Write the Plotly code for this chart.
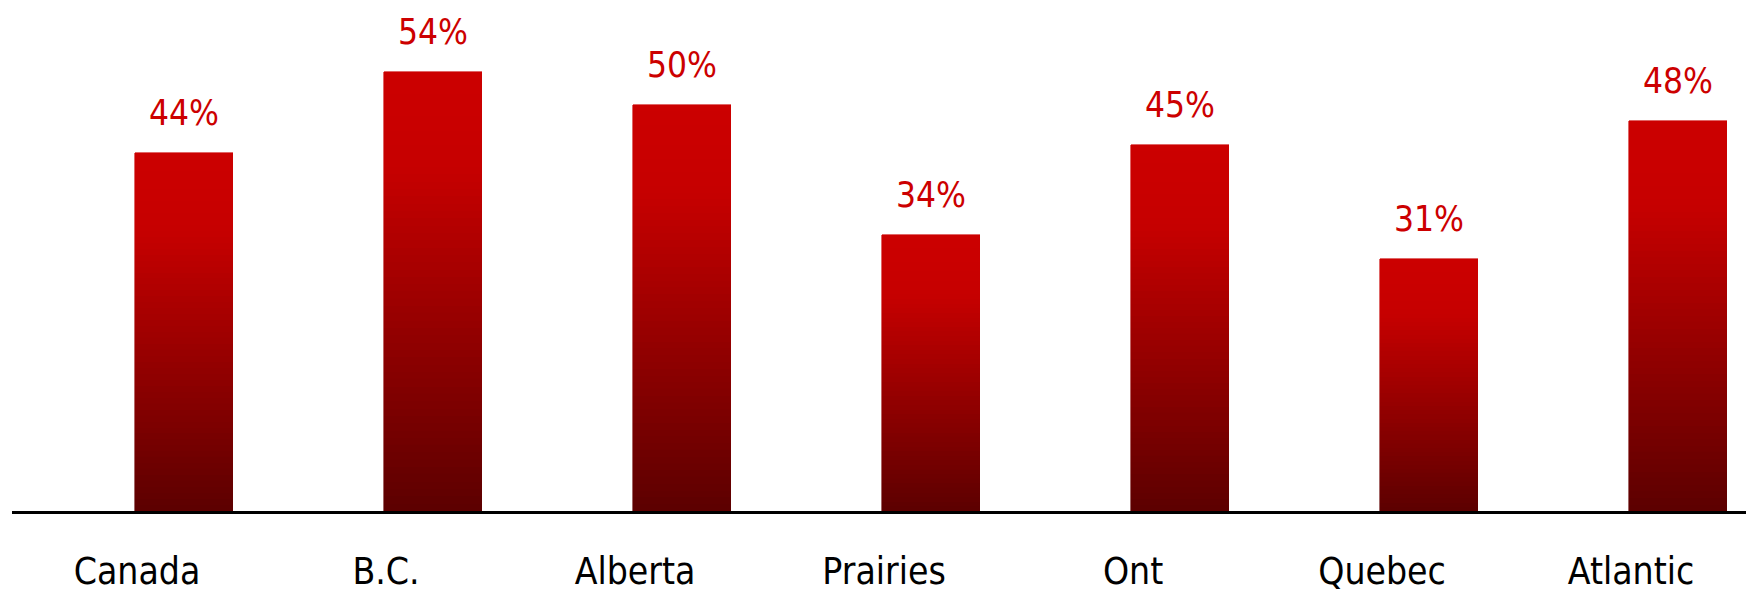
import plotly.graph_objects as go

categories = ["Canada", "B.C.", "Alberta", "Prairies", "Ont", "Quebec", "Atlantic"]
values = [44, 54, 50, 34, 45, 31, 48]
value_labels = ["44%", "54%", "50%", "34%", "45%", "31%", "48%"]

K = 60  # gradient slices per bar
FONT = "DejaVu Sans Condensed, Roboto, sans-serif"


def grad_color(t):
    # t = 0 at top of bar, 1 at bottom
    if t < 0.22:
        r = 204 - (204 - 198) * (t / 0.22)
    else:
        r = 198 - (198 - 92) * ((t - 0.22) / 0.78)
    return "rgb(%d,0,0)" % round(r)


fig = go.Figure()
for k in range(K):
    t = 1 - (k + 0.5) / K
    c = grad_color(t)
    fig.add_trace(go.Bar(
        x=categories,
        y=[v / K for v in values],
        width=0.394,
        marker=dict(color=c, line=dict(color=c, width=0.6)),
        hoverinfo="skip",
        showlegend=False,
    ))

for cat, v, lab in zip(categories, values, value_labels):
    fig.add_annotation(
        x=cat, y=v, text=lab, showarrow=False,
        yanchor="middle", yshift=40,
        font=dict(family=FONT, size=35, color="#CC0000"),
    )

fig.update_layout(
    width=1746, height=584,
    margin=dict(l=4, r=0, t=0, b=81),
    barmode="stack",
    bargap=0,
    plot_bgcolor="white",
    paper_bgcolor="white",
    showlegend=False,
)
fig.update_xaxes(
    range=[-0.691, 6.305],
    automargin=False,
    showline=True, linecolor="black", linewidth=2.5,
    showgrid=False, zeroline=False,
    ticks="outside", ticklen=26, tickcolor="rgba(0,0,0,0)",
    ticklabelshift=-47,
    tickfont=dict(family=FONT, size=37, color="black"),
)
fig.update_yaxes(
    range=[0, 61.87], visible=False, showgrid=False, zeroline=False,
)

fig.write_html("out.html")
